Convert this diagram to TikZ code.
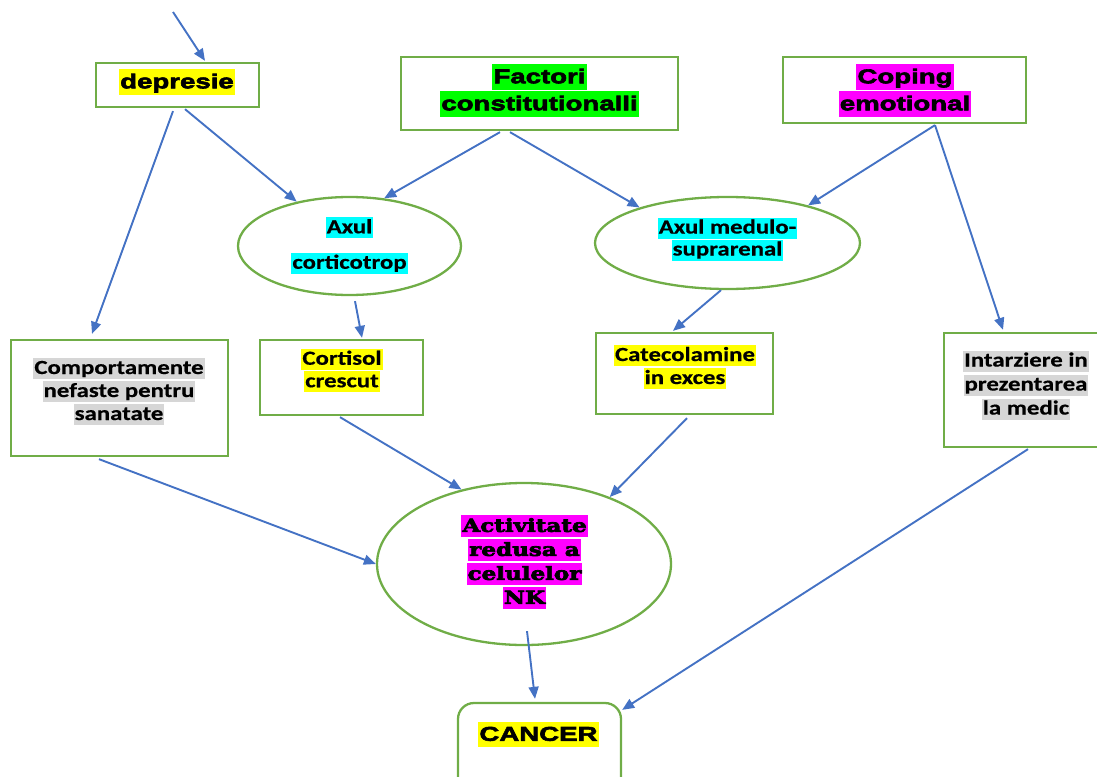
\documentclass[tikz,border=0pt]{standalone}
\usepackage{fontspec}
\usetikzlibrary{arrows.meta,shapes.geometric}
\newfontfamily\blackf{Liberation Sans}[FakeBold=3,FakeStretch=1.38]
\newfontfamily\calf{Carlito}[FakeBold=0.5,FakeStretch=1.24]
\newfontfamily\fatf{DejaVu Serif}[FakeBold=4,FakeStretch=1.28]
\definecolor{boxgreen}{HTML}{70AD47}
\definecolor{arrblue}{HTML}{4472C4}
\definecolor{hyel}{HTML}{FFFF00}
\definecolor{hcyan}{HTML}{00FFFF}
\definecolor{hgreen}{HTML}{00FF00}
\definecolor{hmag}{HTML}{FF00FF}
\definecolor{hgray}{HTML}{D6D6D6}
\setlength{\fboxsep}{1pt}
\newcommand\hlA[2]{\colorbox{#1}{\rule[-0.27em]{0pt}{1.17em}#2}}
\newcommand\hlB[2]{\colorbox{#1}{\rule[-0.2em]{0pt}{0.95em}#2}}
\newcommand\hlC[2]{\colorbox{#1}{\rule[-0.25em]{0pt}{1.15em}#2}}
\tikzset{
  box/.style={draw=boxgreen, line width=2.3pt, inner sep=0pt},
  oval/.style={ellipse, draw=boxgreen, line width=2.3pt, inner sep=0pt},
  conn/.style={draw=arrblue, line width=1.9pt, -{Triangle[length=12pt,width=10pt]}},
  blk/.style={align=center, inner sep=0pt, font=\blackf\bfseries\fontsize{20}{27}\selectfont},
  cal/.style={align=center, inner sep=0pt, font=\calf\bfseries\fontsize{20}{23}\selectfont},
  fat/.style={align=center, inner sep=0pt, font=\fatf\bfseries\fontsize{18}{24}\selectfont},
}
\begin{document}
\begin{tikzpicture}[x=1pt,y=-1pt]
\useasboundingbox (0,0) rectangle (1097,776);
\clip (0,0) rectangle (1097,776);
% boxes
\node[box, minimum width=163pt, minimum height=44pt] (dep) at (177.5,85) {};
\node[box, minimum width=277pt, minimum height=73pt] (fac) at (539.5,93.5) {};
\node[box, minimum width=243pt, minimum height=66pt] (cop) at (904.5,90) {};
\node[oval, minimum width=223pt, minimum height=98pt] (ax1) at (349.5,246) {};
\node[oval, minimum width=265pt, minimum height=92pt] (ax2) at (727.5,243) {};
\node[box, minimum width=217pt, minimum height=116pt] (comp) at (119.5,398) {};
\node[box, minimum width=163pt, minimum height=75pt] (cort) at (341.5,377.5) {};
\node[box, minimum width=177pt, minimum height=81pt] (cat) at (684.5,373.5) {};
\node[box, minimum width=162pt, minimum height=114pt] (int) at (1025,390) {};
\node[oval, minimum width=294pt, minimum height=162pt] (nk) at (524,564) {};
\node[box, rounded corners=16pt, minimum width=163pt, minimum height=97pt] (can) at (539.5,751.5) {};
% texts
\node[blk] (tdep) at (177,82) {\hlA{hyel}{depresie}};
\node[blk] (tfac) at (539.5,90.5) {\hlA{hgreen}{Factori}\\\hlA{hgreen}{constitutionalli}};
\node[blk] (tcop) at (905,90.5) {\hlA{hmag}{Coping}\\\hlA{hmag}{emotional}};
\node[cal, font=\calf\bfseries\fontsize{20}{35.5}\selectfont] (tax1) at (349.5,245.5) {\hlB{hcyan}{Axul}\\\hlB{hcyan}{corticotrop}};
\node[cal, font=\calf\bfseries\fontsize{20}{22}\selectfont] (tax2) at (727.5,239) {\hlB{hcyan}{Axul medulo-}\\\hlB{hcyan}{suprarenal}};
\node[cal] (tcomp) at (119,391.5) {\hlB{hgray}{Comportamente}\\\hlB{hgray}{nefaste pentru}\\\hlB{hgray}{sanatate}};
\node[cal, font=\calf\bfseries\fontsize{20}{22.5}\selectfont] (tcort) at (342,370.5) {\hlB{hyel}{Cortisol}\\\hlB{hyel}{crescut}};
\node[cal] (tcat) at (685,367) {\hlB{hyel}{Catecolamine}\\\hlB{hyel}{in exces}};
\node[cal, font=\calf\bfseries\fontsize{20}{24}\selectfont] (tint) at (1026,385) {\hlB{hgray}{Intarziere in}\\\hlB{hgray}{prezentarea}\\\hlB{hgray}{la medic}};
\node[fat] (tnk) at (524.5,562) {\hlC{hmag}{Activitate}\\\hlC{hmag}{redusa a}\\\hlC{hmag}{celulelor}\\\hlC{hmag}{NK}};
\node[blk] (tcan) at (538.5,734.5) {\hlA{hyel}{CANCER}};
% connectors
\coordinate (start) at (173,12);
\draw[conn] (start) -- ([xshift=27.5pt,yshift=1pt]dep.north);
\draw[conn] ([xshift=-4.5pt,yshift=-3pt]dep.south) -- ([xshift=-27.5pt,yshift=5pt]comp.north);
\draw[conn] ([xshift=7.5pt,yshift=-1pt]dep.south) -- (ax1.140);
\draw[conn] ([xshift=-39.5pt,yshift=-1pt]fac.south) -- (ax1.54);
\draw[conn] ([xshift=-29.5pt,yshift=-1pt]fac.south) -- (ax2.158);
\draw[conn] ([xshift=30.5pt,yshift=-1pt]cop.south) -- (ax2.25);
\draw[conn] ([xshift=30.5pt,yshift=-1pt]cop.south) -- ([xshift=-22pt,yshift=2pt]int.north);
\draw[conn] ([xshift=5.5pt,yshift=-5pt]ax1.south) -- ([xshift=20.5pt,yshift=1pt]cort.north);
\draw[conn] ([xshift=-6.5pt]ax2.south) -- ([xshift=-11.5pt,yshift=1pt]cat.north);
\draw[conn] ([xshift=-20.5pt,yshift=-2pt]comp.south) -- (nk.west);
\draw[conn] ([xshift=-1.5pt,yshift=-1pt]cort.south) -- (nk.130);
\draw[conn] ([xshift=2.5pt,yshift=-3pt]cat.south) -- (nk.38);
\draw[conn] ([xshift=3pt,yshift=-1pt]int.south) -- ([yshift=-8pt]can.north east);
\draw[conn] ([xshift=3pt,yshift=15pt]nk.south) -- ([xshift=-4.5pt,yshift=3pt]can.north);
\end{tikzpicture}
\end{document}
